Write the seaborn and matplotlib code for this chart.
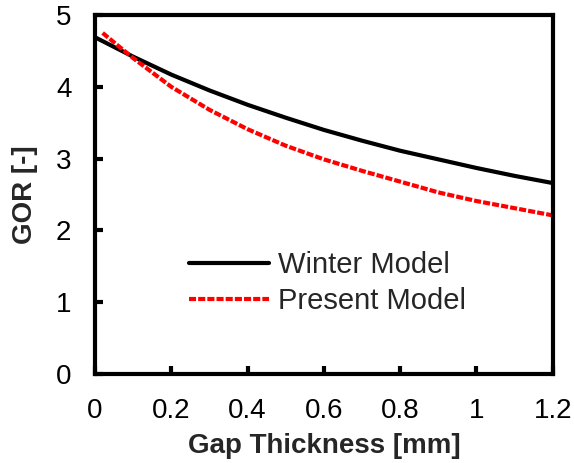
import matplotlib
matplotlib.use("Agg")
import matplotlib.pyplot as plt
import seaborn as sns
import pandas as pd

winter_x = [0.0, 0.1, 0.2, 0.3, 0.4, 0.5, 0.6, 0.7, 0.8, 0.9, 1.0, 1.1, 1.2]
winter_y = [4.69, 4.42, 4.17, 3.95, 3.75, 3.57, 3.40, 3.25, 3.11, 2.99, 2.87, 2.76, 2.66]
present_x = [0.02, 0.1, 0.2, 0.3, 0.4, 0.5, 0.6, 0.7, 0.8, 0.9, 1.0, 1.1, 1.2]
present_y = [4.75, 4.40, 4.00, 3.68, 3.41, 3.18, 2.99, 2.83, 2.68, 2.53, 2.41, 2.31, 2.21]
x_ticks = [0, 0.2, 0.4, 0.6, 0.8, 1, 1.2]
x_tick_labels = ["0", "0.2", "0.4", "0.6", "0.8", "1", "1.2"]
y_ticks = [0, 1, 2, 3, 4, 5]

sns.set_style("white")
plt.rcParams['font.family'] = ['Liberation Sans', 'DejaVu Sans']

fig = plt.figure(figsize=(5.74, 4.63), dpi=100)
ax = fig.add_axes([0.1655, 0.192, 0.963 - 0.1655, 0.9676 - 0.192])

dfw = pd.DataFrame({"x": winter_x, "y": winter_y})
dfp = pd.DataFrame({"x": present_x, "y": present_y})
sns.lineplot(data=dfw, x="x", y="y", ax=ax, color="black", lw=3.0,
             label="Winter Model")
sns.lineplot(data=dfp, x="x", y="y", ax=ax, color="#ff0000", lw=3.0,
             linestyle=(0, (1.7, 0.5)), label="Present Model")

ax.set_xlim(0, 1.2)
ax.set_ylim(0, 5)
ax.set_xticks(x_ticks)
ax.set_xticklabels(x_tick_labels)
ax.set_yticks(y_ticks)
ax.tick_params(axis="both", direction="in", length=6, width=3, labelsize=20,
               pad=17, colors="black")
ax.tick_params(axis="x", top=False, bottom=True)
ax.tick_params(axis="y", left=True, right=False)
for s in ax.spines.values():
    s.set_linewidth(3)
    s.set_color("black")
    s.set_visible(True)

ax.set_xlabel("Gap Thickness [mm]", fontsize=20, fontweight="bold", labelpad=7)
ax.set_ylabel("GOR [-]", fontsize=20, fontweight="bold", labelpad=13)

leg = ax.legend(loc="center left", bbox_to_anchor=(189 / 574, 1 - 283 / 463),
                bbox_transform=fig.transFigure, frameon=False,
                fontsize=21, handlelength=2.75, handletextpad=0.3,
                labelspacing=0.28, borderaxespad=0, borderpad=0)

fig.savefig("out.png", dpi=100)
